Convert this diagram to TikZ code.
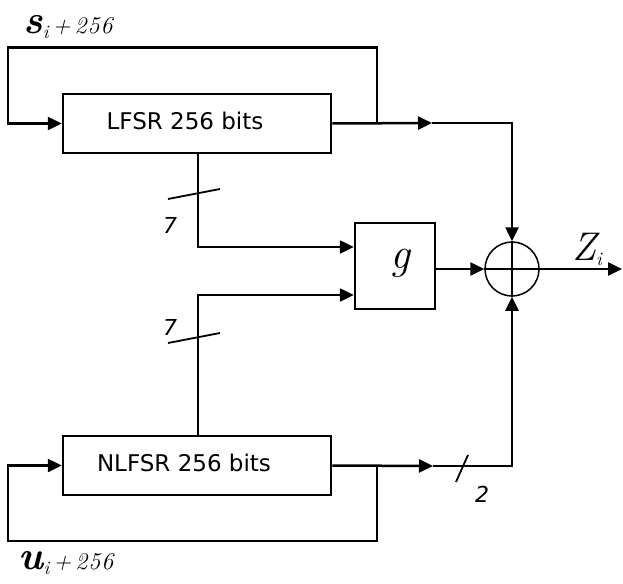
\documentclass[tikz,border=0pt]{standalone}
\usepackage{fontspec}
\setsansfont{DejaVu Sans}
\usetikzlibrary{arrows.meta}

\newcommand{\indice}[1]{\raisebox{-5pt}{\fontsize{19}{19}\selectfont\mdseries\itshape #1}}
\newcommand{\decal}{{\fontsize{24}{24}\selectfont\mdseries\itshape\,+\,2\kern1pt5\kern1pt6}}

\tikzset{
  registre/.style={draw, rectangle, minimum width=268pt, minimum height=59pt, inner sep=0pt},
  fonction/.style={draw, rectangle, minimum width=80pt, minimum height=86pt, inner sep=0pt},
  ouexcl/.style={draw, circle, minimum size=54pt, inner sep=0pt, line width=1.5pt},
  txtreg/.style={font=\sffamily\fontsize{23}{23}\selectfont},
  nbfils/.style={font=\sffamily\itshape\fontsize{22}{22}\selectfont},
  etiq/.style={font=\fontsize{40}{40}\selectfont\bfseries\itshape, inner sep=0pt}
}

\begin{document}
\begin{tikzpicture}[line join=miter,>={Triangle[length=14pt,width=13pt]},x=1pt,y=-1pt,line width=2.5pt]
		\useasboundingbox (0,0) rectangle (623,583);
		%Registres
		\node[registre] (lfsr) at (197,123.5) {};
		\node[txtreg] (lfsrtxt) at (185,121) {LFSR 256 bits};
		\node[registre] (nlfsr) at (197,465.5) {};
		\node[txtreg] (nlfsrtxt) at (184,463) {NLFSR 256 bits};
		%Fonction g et XOR
		\node[fonction] (g) at (395,266) {};
		\node[font=\fontsize{44}{44}\selectfont\itshape, inner sep=0pt] (gtxt) at (400,263) {g};
		\node[ouexcl] (xor) at (512,269) {};
		\draw[line width=1.5pt] (xor.north) -- (xor.south);
		\draw[line width=1.5pt] (xor.west) -- (xor.east);
		%points de passage
		\coordinate (b1) at (377,123);
		\coordinate (c1) at (8,47.6);
		\coordinate (a1) at (432,123);
		\coordinate (b2) at (377,466);
		\coordinate (c2) at (8,541);
		\coordinate (a2) at (433,466);
		\coordinate (e1) at (198,247);
		\coordinate (e2) at (198,295);
		\coordinate (sortie) at (622,269);
		%Boucle LFSR
		\draw[->] (b1) |- (c1) |- (lfsr.west);
		\draw[->] (lfsr.east) -- (a1);
		\draw[->] (a1) -| (xor.north);
		%Boucle NLFSR
		\draw[->] (b2) |- (c2) |- (nlfsr.west);
		\draw[->] (nlfsr.east) -- (a2);
		\draw[->] (a2) -| (xor.south);
		%entrees de g
		\draw[->] (lfsr.south -| e1) -- (e1) -- (g.west |- e1);
		\draw[->] (nlfsr.north -| e2) -- (e2) -- (g.west |- e2);
		\draw[->] (g.east |- xor.west) -- (xor.west);
		\draw[->] (xor.east) -- (sortie);
		%marquage des fils
		\draw[line width=1.8pt] (168,199) -- (220,189);
		\draw[line width=1.8pt] (168,343) -- (220,333);
		\draw[line width=1.8pt] (456,482) -- (468,455);
		\node[nbfils] (n1) at (170,225) {7};
		\node[nbfils] (n2) at (170,327) {7};
		\node[nbfils] (n3) at (482,494) {2};
		%etiquettes
		\node[etiq] (s) at (68,27) {s\indice{i}\decal};
		\node[etiq] (u) at (66,563) {u\indice{i}\decal};
		\node[font=\fontsize{40}{40}\selectfont\itshape, inner sep=0pt] (z) at (587,249) {Z\indice{i}};
\end{tikzpicture}
\end{document}
